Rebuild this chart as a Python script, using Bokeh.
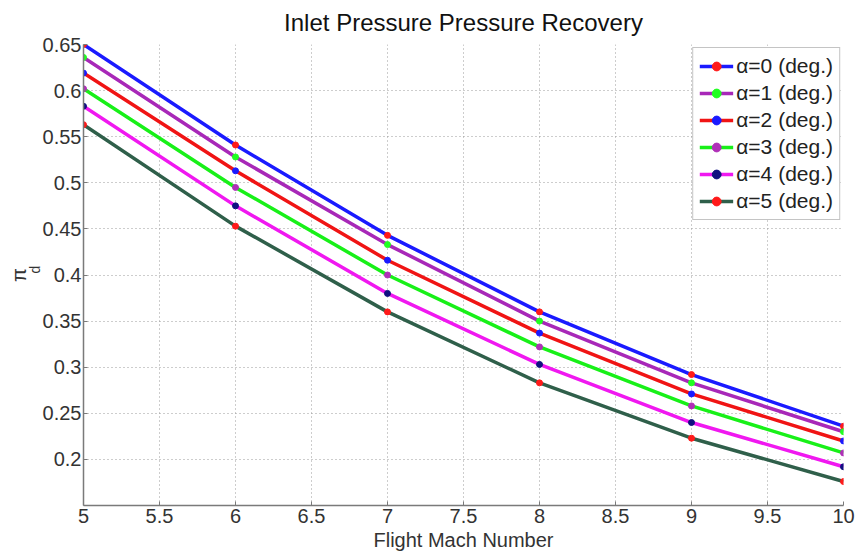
from bokeh.plotting import figure
from bokeh.models import (FixedTicker, Legend, LegendItem, Title)
from bokeh.embed import file_html
from bokeh.resources import INLINE

mach = [5, 6, 7, 8, 9, 10]
alpha_labels = ["α=0 (deg.)", "α=1 (deg.)", "α=2 (deg.)", "α=3 (deg.)", "α=4 (deg.)", "α=5 (deg.)"]
pi_d_a0 = [0.650, 0.541, 0.443, 0.360, 0.292, 0.236]
pi_d_a1 = [0.636, 0.528, 0.433, 0.350, 0.283, 0.230]
pi_d_a2 = [0.619, 0.513, 0.416, 0.337, 0.271, 0.220]
pi_d_a3 = [0.602, 0.495, 0.400, 0.322, 0.258, 0.207]
pi_d_a4 = [0.583, 0.475, 0.380, 0.303, 0.240, 0.192]
pi_d_a5 = [0.563, 0.453, 0.360, 0.283, 0.223, 0.176]
series = [pi_d_a0, pi_d_a1, pi_d_a2, pi_d_a3, pi_d_a4, pi_d_a5]

x_ticks = [5, 5.5, 6, 6.5, 7, 7.5, 8, 8.5, 9, 9.5, 10]
x_tick_labels = ["5", "5.5", "6", "6.5", "7", "7.5", "8", "8.5", "9", "9.5", "10"]
y_ticks = [0.2, 0.25, 0.3, 0.35, 0.4, 0.45, 0.5, 0.55, 0.6, 0.65]
y_tick_labels = ["0.2", "0.25", "0.3", "0.35", "0.4", "0.45", "0.5", "0.55", "0.6", "0.65"]

line_colors = ["#1a1aff", "#a828b8", "#f01414", "#18f018", "#f018f0", "#2f5f4a"]
marker_colors = ["#ff1a1a", "#20ff20", "#1a1aff", "#b030b8", "#101080", "#ff1a1a"]

FONT = "Liberation Sans"

p = figure(width=858, height=554, output_backend="svg", toolbar_location=None,
           x_range=(5, 10), y_range=(0.15, 0.65),
           min_border_left=83, min_border_right=15, min_border_top=44, min_border_bottom=49)
p.title.text = "Inlet Pressure Pressure Recovery"
p.title.align = "center"
p.title.vertical_align = "top"
p.title.text_font = FONT
p.title.text_font_size = "24px"
p.title.text_font_style = "normal"
p.title.text_color = "#111111"
p.title.standoff = 14

p.outline_line_color = None
p.background_fill_color = "white"
p.border_fill_color = "white"

p.xaxis.ticker = FixedTicker(ticks=x_ticks)
p.yaxis.ticker = FixedTicker(ticks=y_ticks)
p.xaxis.major_label_overrides = {t: l for t, l in zip(x_ticks, x_tick_labels)}
p.yaxis.major_label_overrides = {t: l for t, l in zip(y_ticks, y_tick_labels)}
for ax in (p.xaxis, p.yaxis):
    ax.major_label_text_font = FONT
    ax.major_label_text_font_size = "20px"
    ax.major_label_text_color = "#333333"
    ax.axis_line_color = "#7a7a7a"
    ax.axis_line_width = 1.5
    ax.major_tick_line_color = "#7a7a7a"
    ax.major_tick_in = 4
    ax.major_tick_out = 0
    ax.minor_tick_line_color = None
    ax.major_label_standoff = 3
p.yaxis.major_label_standoff = 2
p.xaxis.axis_label = "Flight Mach Number"
p.xaxis.axis_label_text_font = FONT
p.xaxis.axis_label_text_font_size = "20px"
p.xaxis.axis_label_text_font_style = "normal"
p.xaxis.axis_label_text_color = "#333333"
p.xaxis.axis_label_standoff = 3

for g in (p.xgrid, p.ygrid):
    g.grid_line_color = "#9a9a9a"
    g.grid_line_dash = "1 3"
    g.grid_line_width = 1

items = []
for vals, lc, mc, lab in zip(series, line_colors, marker_colors, alpha_labels):
    r1 = p.line(mach, vals, line_color=lc, line_width=3.5)
    r2 = p.scatter(mach, vals, marker="circle", size=6, fill_color=mc, line_color=mc)
    items.append(LegendItem(label=lab, renderers=[r1, r2]))

legend = Legend(items=items, location="top_right")
legend.label_text_font = FONT
legend.label_text_font_size = "21px"
legend.label_text_color = "#222222"
legend.border_line_color = "#8a8a8a"
legend.border_line_width = 1.5
legend.glyph_width = 34
legend.glyph_height = 22
legend.label_height = 22
legend.spacing = 3
legend.padding = 6
legend.margin = 3
legend.label_standoff = 3
legend.background_fill_alpha = 1
p.add_layout(legend)

# y-axis label: pi with subscript d, as two side titles
t_d = Title(text="d", align="left", text_font=FONT, text_font_size="14px",
            text_font_style="normal", text_color="#333333", offset=232, standoff=-6)
t_pi = Title(text="π", align="center", text_font=FONT, text_font_size="20px",
             text_font_style="normal", text_color="#333333", standoff=-4)
p.add_layout(t_d, "left")
p.add_layout(t_pi, "left")

open("out.html", "w").write(file_html(p, INLINE))
